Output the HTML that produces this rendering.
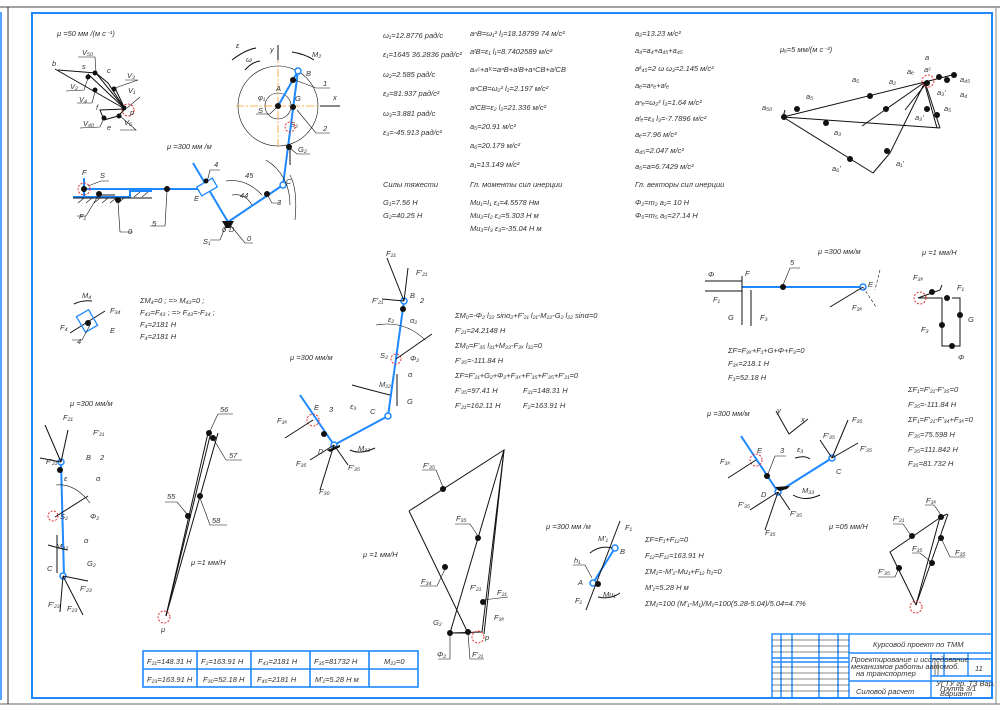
<!DOCTYPE html>
<html><head><meta charset="utf-8"><style>
html,body{margin:0;padding:0;background:#fff}
svg{display:block}
text{font-family:"Liberation Sans",sans-serif;font-style:italic;font-size:7.5px;fill:#333}
.b{stroke:#1e88ff;stroke-width:2;fill:none}
.k{stroke:#111;stroke-width:1;fill:none}
.t{stroke:#111;stroke-width:.6;fill:none}
.r{stroke:#e53030;stroke-width:1;fill:none;stroke-dasharray:2 1.5}
.d{fill:#111}
.o{stroke:#f39a2a;stroke-width:.8;fill:none;stroke-dasharray:8 2 2 2}
.bl{stroke:#1e88ff;stroke-width:2;fill:none}
</style></head><body>
<svg width="1000" height="712" viewBox="0 0 1000 712" xmlns="http://www.w3.org/2000/svg">
<line x1="0" y1="7" x2="1000" y2="7" stroke="#444" stroke-width="1"/>
<line x1="0" y1="704" x2="1000" y2="704" stroke="#666" stroke-width="1"/>
<line x1="8" y1="7" x2="8" y2="704" stroke="#333" stroke-width="1"/>
<line x1="1" y1="12" x2="1" y2="700" stroke="#1e88ff" stroke-width="1.5"/>
<line x1="996" y1="7" x2="996" y2="704" stroke="#888" stroke-width="1"/>
<rect x="32" y="13" width="960" height="685" class="bl"/>

<text x="57" y="36">μ =50 мм /(м с⁻¹)</text>
<g class="k">
<line x1="125" y1="109" x2="55" y2="69"/>
<line x1="125" y1="109" x2="88" y2="74"/>
<line x1="125" y1="109" x2="96" y2="73"/>
<line x1="125" y1="109" x2="115" y2="88"/>
<polyline points="58,70 96,73 108,83 125,109"/>
<polyline points="125,109 118,116 104,120 100,110 125,109"/>
</g>
<circle cx="128" cy="110" r="6" class="r"/>
<g class="d"><circle cx="88" cy="77" r="2.5"/><circle cx="95" cy="73" r="2.5"/><circle cx="114" cy="89" r="2.5"/><circle cx="95" cy="90" r="2.5"/><circle cx="124" cy="108" r="2.5"/><circle cx="119" cy="116" r="2.5"/><circle cx="104" cy="118" r="2.5"/></g>
<text x="52" y="66">b</text><text x="82" y="69">s</text><text x="107" y="73">c</text><text x="107" y="130">e</text><text x="96" y="110">f</text><text x="130" y="115">p</text>
<text x="82" y="55">V₅₀</text><text x="127" y="78">V₃</text><text x="70" y="89">V₂</text><text x="79" y="102">V₄</text><text x="128" y="93">V₁</text><text x="83" y="126">V₄₀</text><text x="124" y="125">V₅</text>
<g class="t"><polyline points="78,57 95,57 96,72"/><polyline points="125,80 138,80 115,88"/><polyline points="66,91 84,90 88,78"/><polyline points="77,103 92,103 95,92"/><polyline points="140,97 127,108"/><polyline points="80,128 100,127 103,120"/><polyline points="120,130 136,130 120,116"/></g>

<circle cx="278" cy="106" r="40" class="t"/>
<circle cx="278" cy="106" r="13" class="t"/>
<line x1="236" y1="106" x2="340" y2="106" class="o"/>
<line x1="278" y1="55" x2="278" y2="148" class="o"/>
<line x1="278" y1="60" x2="278" y2="45" class="k"/>
<text x="270" y="52">y</text><line x1="320" y1="106" x2="340" y2="106" class="k"/><text x="333" y="100">x</text>
<text x="276" y="91">A</text><text x="258" y="100">φ₁</text><text x="306" y="76">B</text>
<text x="295" y="101">G</text><text x="290" y="127">S₂</text><text x="312" y="57">M₂</text>
<path d="M232 60 Q245 50 256 48" class="k"/><path d="M245 70 Q252 62 260 61" class="k"/>
<text x="236" y="48">ε</text><text x="246" y="62">ω</text>
<path d="M292 52 Q305 54 314 60" class="k"/>
<line x1="278" y1="106" x2="298" y2="71" class="b"/>
<line x1="298" y1="71" x2="283" y2="185" class="b"/>
<circle cx="298" cy="71" r="3" fill="#fff" stroke="#1e88ff" stroke-width="1.5"/>
<circle cx="293" cy="80" r="3" class="d"/><circle cx="278" cy="106" r="3" class="d"/><circle cx="293" cy="107" r="3" class="d"/><circle cx="289" cy="147" r="3" class="d"/>
<circle cx="290" cy="127" r="5" class="r"/>
<line x1="290" y1="148" x2="290" y2="165" class="k"/>
<g class="t"><polyline points="295,80 316,88 330,88"/><polyline points="297,110 316,133 330,133"/><polyline points="291,149 297,154 310,154"/><polyline points="276,108 270,114 256,114"/></g>
<text x="323" y="86">1</text><text x="323" y="131">2</text><text x="298" y="152">G₂</text><text x="258" y="113">S</text>
<text x="167" y="149">μ =300 мм /м</text>
<line x1="84" y1="189" x2="205" y2="189" class="b"/>
<line x1="84" y1="178" x2="84" y2="197" class="b"/>
<polyline points="73,197 130,197 130,191 152,191" class="b"/>
<line x1="73" y1="198" x2="152" y2="198" class="k"/>
<g class="t"><line x1="78" y1="203" x2="84" y2="198"/><line x1="86" y1="203" x2="92" y2="198"/><line x1="94" y1="203" x2="100" y2="198"/><line x1="102" y1="203" x2="108" y2="198"/><line x1="110" y1="203" x2="116" y2="198"/><line x1="118" y1="203" x2="124" y2="198"/><line x1="134" y1="197" x2="140" y2="192"/><line x1="142" y1="197" x2="148" y2="192"/></g>
<circle cx="84" cy="189" r="6" class="r"/>
<circle cx="84" cy="189" r="3" class="d"/><circle cx="99" cy="194" r="3" class="d"/><circle cx="118" cy="200" r="3" class="d"/><circle cx="167" cy="189" r="3" class="d"/>
<line x1="100" y1="195" x2="115" y2="195" class="k"/>
<text x="82" y="175">F</text><text x="100" y="178">S</text><text x="79" y="219">F₁</text><text x="128" y="234">0</text><text x="152" y="226">5</text><text x="194" y="201">E</text><text x="214" y="167">4</text>
<g class="t"><polyline points="88,186 101,181 109,181"/><polyline points="98,196 86,216 77,216"/><polyline points="118,202 120,232 133,232"/><polyline points="167,191 165,226 150,226"/><polyline points="207,182 210,170 220,170"/></g>
<line x1="193" y1="163" x2="228" y2="222" class="b"/>
<g transform="rotate(-30 207 187)"><rect x="198" y="182" width="18" height="10" fill="#fff" stroke="#1e88ff" stroke-width="1.3"/></g>
<circle cx="206" cy="181" r="2.5" class="d"/>
<line x1="228" y1="222" x2="283" y2="185" class="b"/>
<circle cx="283" cy="185" r="3" fill="#fff" stroke="#1e88ff" stroke-width="1.5"/>
<circle cx="267" cy="194" r="3" class="d"/>
<path d="M222 221 L234 221 L230 228 L226 228Z" class="d"/>
<text x="229" y="232">D</text><text x="286" y="184">C</text><text x="277" y="205">3</text>
<text x="222" y="232">0</text><text x="245" y="178">45</text><text x="240" y="198">44</text>
<path d="M226 181 Q246 178 262 195" class="t"/><path d="M232 195 Q245 193 252 205" class="t"/>
<path d="M266 160 Q290 175 290 205" class="t"/><path d="M290 175 Q298 190 295 220" class="t"/>
<g class="t"><polyline points="268,196 272,203 280,203"/><polyline points="226,225 220,240 210,240"/><polyline points="231,226 245,243 253,243"/></g>
<text x="203" y="244">S₁</text><text x="247" y="241">0</text>

<text x="383" y="38">ω₁=12.8776 рад/с</text>
<text x="383" y="57">ε₁=1645 36.2836 рад/с²</text>
<text x="383" y="77">ω₂=2.585 рад/с</text>
<text x="383" y="96">ε₂=81.937 рад/с²</text>
<text x="383" y="116">ω₃=3.881 рад/с</text>
<text x="383" y="135">ε₃=-45.913 рад/с²</text>

<text x="470" y="36">aⁿB=ω₁² l₁=18.18799 74 м/с²</text>
<text x="470" y="54">aᵗB=ε₁ l₁=8.7402589 м/с²</text>
<text x="470" y="72">aₙᶜ+aᵗᶜ=aⁿB+aᵗB+aⁿCB+aᵗCB</text>
<text x="470" y="91">aⁿCB=ω₂² l₂=2.197 м/с²</text>
<text x="470" y="110">aᵗCB=ε₂ l₂=21.336 м/с²</text>
<text x="470" y="129">a₅=20.91 м/с²</text>
<text x="470" y="148">a₆=20.179 м/с²</text>
<text x="470" y="167">a₁=13.149 м/с²</text>

<text x="635" y="36">a₂=13.23 м/с²</text>
<text x="635" y="53">a₄=a₄+a₄₅+a₄₅</text>
<text x="635" y="71">aᵏ₄₅=2 ω ω₃=2.145 м/с²</text>
<text x="635" y="88">aₑ=aⁿₑ+aᵗₑ</text>
<text x="635" y="105">aⁿₑ=ω₃² l₃=1.64 м/с²</text>
<text x="635" y="121">aᵗₑ=ε₃ l₃=-7.7896 м/с²</text>
<text x="635" y="137">aₑ=7.96 м/с²</text>
<text x="635" y="153">a₄₅=2.047 м/с²</text>
<text x="635" y="169">a₅=a=6.7429 м/с²</text>

<text x="383" y="187">Силы тяжести</text>
<text x="383" y="205">G₁=7.56 Н</text>
<text x="383" y="218">G₂=40.25 Н</text>
<text x="470" y="187">Гл. моменты сил инерции</text>
<text x="470" y="205">Mи₁=I₁ ε₁=4.5578 Нм</text>
<text x="470" y="218">Mи₂=I₂ ε₂=5.303 Н м</text>
<text x="470" y="231">Mи₃=I₃ ε₃=-35.04 Н м</text>
<text x="635" y="187">Гл. векторы сил инерции</text>
<text x="635" y="205">Φ₂=m₂ a₂= 10 Н</text>
<text x="635" y="218">Φ₅=m₅ a₅=27.14 Н</text>

<text x="780" y="52">μₐ=5 мм/(м с⁻²)</text>
<g class="k">
<line x1="783" y1="117" x2="925" y2="82"/>
<line x1="783" y1="117" x2="940" y2="128"/>
<line x1="783" y1="117" x2="873" y2="173"/>
<polyline points="873,173 890,153 925,82"/>
<line x1="862" y1="126" x2="925" y2="82"/>
<line x1="925" y1="82" x2="940" y2="128"/>
<line x1="925" y1="82" x2="952" y2="75"/>
<line x1="783" y1="117" x2="785" y2="110"/>
<polyline points="905,110 925,85 937,128"/>
</g>
<circle cx="928" cy="81" r="6" class="r"/>
<g class="d"><circle cx="797" cy="109" r="3"/><circle cx="826" cy="123" r="3"/><circle cx="870" cy="96" r="3"/><circle cx="886" cy="109" r="3"/><circle cx="850" cy="159" r="3"/><circle cx="887" cy="151" r="3"/><circle cx="927" cy="83" r="3"/><circle cx="939" cy="77" r="3"/><circle cx="947" cy="80" r="3"/><circle cx="954" cy="75" r="3"/><circle cx="927" cy="109" r="3"/><circle cx="937" cy="115" r="3"/><circle cx="784" cy="117" r="3"/></g>
<g><text x="762" y="110" font-size="7">a₅₀</text><text x="806" y="99" font-size="7">a₅</text><text x="852" y="82" font-size="7">a₅</text><text x="889" y="84" font-size="7">a₂</text><text x="907" y="74" font-size="7">aₑ</text><text x="924" y="72" font-size="7">aᶜ</text><text x="925" y="60" font-size="7">a</text><text x="960" y="82" font-size="7">a₄₅</text><text x="960" y="97" font-size="7">a₄</text><text x="937" y="95" font-size="7">a₃'</text><text x="915" y="120" font-size="7">a₃'</text><text x="944" y="111" font-size="7">a₅</text><text x="834" y="135" font-size="7">a₃</text><text x="832" y="171" font-size="7">a₆'</text><text x="896" y="166" font-size="7">a₁'</text></g>

<text x="818" y="254">μ =300 мм/м</text>
<line x1="742" y1="287" x2="863" y2="287" class="b"/>
<circle cx="863" cy="287" r="3" fill="#fff" stroke="#1e88ff" stroke-width="1.5"/>
<circle cx="783" cy="287" r="3" class="d"/>
<line x1="742" y1="276" x2="742" y2="325" class="k"/>
<line x1="705" y1="281" x2="742" y2="281" class="k"/><line x1="705" y1="291" x2="742" y2="291" class="k"/>
<line x1="751" y1="290" x2="751" y2="326" class="k"/>
<line x1="880" y1="270" x2="875" y2="290" class="t" stroke-dasharray="3 2"/><line x1="863" y1="287" x2="876" y2="307" class="t" stroke-dasharray="3 2"/>
<line x1="863" y1="287" x2="830" y2="307" class="k"/>
<polyline points="783,285 790,268 800,268" class="t"/>
<text x="708" y="277">Φ</text><text x="745" y="276">F</text><text x="790" y="265">5</text><text x="868" y="287">E</text>
<text x="713" y="302">F₁</text><text x="728" y="320">G</text><text x="760" y="320">F₃</text><text x="852" y="310">F₃ₓ</text>
<text x="728" y="353">ΣF=F₃ₓ+F₁+G+Φ+F₃=0</text>
<text x="728" y="366">F₃ₓ=218.1 Н</text>
<text x="728" y="380">F₃=52.18 Н</text>
<text x="922" y="255">μ =1 мм/Н</text>
<g class="k"><polyline points="918,298 942,298 942,346 960,346 960,298 952,298"/><polyline points="918,298 940,290 942,285"/></g>
<circle cx="920" cy="298" r="6" class="r"/>
<g class="d"><circle cx="932" cy="292" r="3"/><circle cx="947" cy="298" r="3"/><circle cx="960" cy="315" r="3"/><circle cx="942" cy="325" r="3"/><circle cx="952" cy="346" r="3"/></g>
<text x="913" y="280">F₃ₓ</text><text x="957" y="290">F₁</text><text x="968" y="322">G</text><text x="921" y="332">F₃</text><text x="958" y="360">Φ</text>

<text x="82" y="298">M₄</text>
<path d="M74 304 Q82 300 92 301" class="k"/>
<line x1="70" y1="333" x2="105" y2="311" class="k"/>
<g transform="rotate(-30 87 321)"><rect x="80" y="312" width="14" height="18" fill="none" stroke="#1e88ff" stroke-width="1.3"/></g>
<circle cx="88" cy="323" r="3" class="d"/>
<polyline points="90,325 82,340 72,340" class="t"/>
<text x="60" y="330">F₄</text><text x="110" y="313">F₃₄</text><text x="110" y="333">E</text><text x="77" y="344">4</text>
<text x="140" y="303">ΣM₄=0 ; => M₄₃=0 ;</text>
<text x="140" y="315">F₄₃=F₄₃ ; => F₄₃=-F₃₄ ;</text>
<text x="140" y="327">F₄=2181 Н</text>
<text x="140" y="339">F₄=2181 Н</text>

<line x1="404" y1="301" x2="388" y2="416" class="b"/>
<line x1="388" y1="416" x2="334" y2="445" class="b"/>
<line x1="334" y1="445" x2="300" y2="395" class="b"/>
<circle cx="404" cy="301" r="3" fill="#fff" stroke="#1e88ff" stroke-width="1.5"/>
<circle cx="388" cy="416" r="3" fill="#fff" stroke="#1e88ff" stroke-width="1.5"/>
<circle cx="334" cy="445" r="3" fill="#fff" stroke="#1e88ff" stroke-width="1.5"/>
<circle cx="403" cy="309" r="3" class="d"/><circle cx="324" cy="434" r="3" class="d"/>
<circle cx="396" cy="359" r="5" class="r"/><circle cx="313" cy="420" r="6" class="r"/>
<g class="k"><line x1="404" y1="301" x2="387" y2="258"/><line x1="404" y1="301" x2="408" y2="268"/><line x1="404" y1="301" x2="382" y2="299"/><line x1="396" y1="359" x2="432" y2="334"/><line x1="397" y1="374" x2="397" y2="406"/><line x1="313" y1="420" x2="285" y2="438"/><line x1="334" y1="445" x2="320" y2="490"/><line x1="334" y1="445" x2="310" y2="460"/><line x1="334" y1="445" x2="348" y2="465"/></g>
<path d="M376 325 Q405 320 425 340" class="t"/><path d="M352 385 Q370 390 390 395" class="k"/><path d="M350 450 Q360 455 375 448" class="k"/>
<path d="M327 450 L340 445 L340 447 L330 452Z" class="d"/>
<text x="386" y="256">F₂₁</text><text x="416" y="275">F'₂₁</text><text x="372" y="303">F'₂₁</text><text x="410" y="298">B</text><text x="420" y="303">2</text>
<text x="388" y="322">ε₂</text><text x="410" y="323">α₂</text><text x="380" y="358">S₂</text><text x="410" y="361">Φ₂</text><text x="408" y="377">α</text>
<text x="379" y="387">M₂₂</text><text x="407" y="404">G</text><text x="370" y="414">C</text><text x="350" y="409">ε₃</text>
<text x="314" y="410">E</text><text x="329" y="412">3</text><text x="277" y="423">F₃ₓ</text><text x="318" y="454">D</text>
<text x="296" y="466">F₃₅</text><text x="319" y="494">F₃₀</text><text x="348" y="470">F'₃₅</text><text x="358" y="451">M₃₃</text>
<text x="290" y="360">μ =300 мм/м</text>
<text x="455" y="318">ΣM₀=-Φ₂ l₂₂ sinα₂+F'₂₁ l₂₁-M₂₂-G₂ l₂₂ sinα=0</text>
<text x="455" y="333">F'₂₁=24.2148 Н</text>
<text x="455" y="348">ΣM₀=F'₃₅ l₃₁+M₃₃-F₃ₓ l₃₂=0</text>
<text x="455" y="363">F'₃₅=-111.84 Н</text>
<text x="455" y="378">ΣF=F'₂₁+G₂+Φ₂+F₃ₓ+F'₃₅+F'₃₅+F'₂₁=0</text>
<text x="455" y="393">F'₃₅=97.41 Н</text><text x="523" y="393">F₂₁=148.31 Н</text>
<text x="455" y="408">F'₂₁=162.11 Н</text><text x="523" y="408">F₂=163.91 Н</text>

<text x="70" y="406">μ =300 мм/м</text>
<line x1="61" y1="462" x2="64" y2="576" class="b"/>
<circle cx="61" cy="462" r="3" fill="#fff" stroke="#1e88ff" stroke-width="1.5"/><circle cx="63" cy="576" r="3" fill="#fff" stroke="#1e88ff" stroke-width="1.5"/>
<circle cx="60" cy="470" r="3" class="d"/><circle cx="53" cy="516" r="5" class="r"/>
<g class="k"><line x1="61" y1="462" x2="45" y2="425"/><line x1="61" y1="462" x2="68" y2="430"/><line x1="61" y1="462" x2="40" y2="458"/><line x1="55" y1="517" x2="88" y2="496"/><line x1="57" y1="535" x2="57" y2="573"/><line x1="63" y1="576" x2="60" y2="612"/><line x1="63" y1="576" x2="83" y2="615"/><line x1="63" y1="576" x2="88" y2="581"/></g>
<path d="M56 485 Q75 483 90 503" class="t"/><path d="M48 545 Q58 548 68 550" class="k"/>
<text x="63" y="420">F₂₁</text><text x="93" y="435">F'₂₁</text><text x="46" y="464">F'₂₁</text><text x="86" y="460">B</text><text x="100" y="460">2</text>
<text x="64" y="481">ε</text><text x="96" y="481">α</text><text x="60" y="519">S₂</text><text x="90" y="519">Φ₂</text><text x="84" y="543">α</text><text x="56" y="549">M₂₂</text><text x="87" y="566">G₂</text>
<text x="47" y="571">C</text><text x="48" y="607">F'₂₃</text><text x="67" y="611">F₂₃</text><text x="80" y="591">F'₂₃</text>
<g class="k"><line x1="166" y1="616" x2="208" y2="433"/><line x1="166" y1="616" x2="218" y2="433"/><line x1="166" y1="616" x2="210" y2="436"/></g>
<circle cx="164" cy="617" r="6" class="r"/><text x="161" y="632">μ</text>
<g class="d"><circle cx="209" cy="433" r="3"/><circle cx="213" cy="438" r="3"/><circle cx="200" cy="496" r="3"/><circle cx="188" cy="516" r="3"/></g>
<g class="t"><polyline points="210,431 218,414 233,414"/><polyline points="214,440 226,460 242,460"/><polyline points="187,514 177,502 165,502"/><polyline points="200,498 210,525 227,525"/></g>
<text x="220" y="412">56</text><text x="229" y="458">57</text><text x="167" y="499">55</text><text x="212" y="523">58</text>
<text x="191" y="565">μ =1 мм/Н</text>

<g class="k"><polyline points="409,511 504,450 450,633 468,633 409,511"/><line x1="504" y1="450" x2="482" y2="632"/><line x1="504" y1="450" x2="484" y2="634"/><line x1="450" y1="633" x2="482" y2="632"/></g>
<circle cx="478" cy="637" r="6" class="r"/>
<g class="d"><circle cx="443" cy="489" r="3"/><circle cx="478" cy="538" r="3"/><circle cx="445" cy="567" r="3"/><circle cx="483" cy="602" r="3"/><circle cx="450" cy="633" r="3"/><circle cx="468" cy="632" r="3"/></g>
<g class="t"><polyline points="443,487 436,470 422,470"/><polyline points="478,536 470,524 455,524"/><polyline points="445,569 437,586 420,586"/><polyline points="483,600 508,597"/><polyline points="450,635 450,659 438,659"/><polyline points="468,634 470,659 484,659"/></g>
<text x="423" y="468">F'₃₅</text><text x="456" y="521">F₃₅</text><text x="421" y="584">F₃₄</text><text x="470" y="590">F'₂₁</text><text x="497" y="595">F₂₁</text><text x="494" y="620">F₃ₓ</text><text x="433" y="625">G₂</text><text x="437" y="657">Φ₂</text><text x="472" y="657">F'₂₁</text><text x="485" y="640">p</text>
<text x="363" y="557">μ =1 мм/Н</text>

<text x="546" y="529">μ =300 мм /м</text>
<line x1="593" y1="583" x2="615" y2="548" class="b"/>
<circle cx="593" cy="583" r="3" fill="#fff" stroke="#1e88ff" stroke-width="1.5"/><circle cx="615" cy="548" r="3" fill="#fff" stroke="#1e88ff" stroke-width="1.5"/>
<circle cx="598" cy="584" r="3" class="d"/>
<g class="k"><line x1="620" y1="521" x2="586" y2="610"/><path d="M590 553 Q600 545 612 548"/><path d="M598 597 Q610 600 620 593"/></g>
<polyline points="592,578 585,565 573,565" class="t"/>
<text x="598" y="541">M'₁</text><text x="625" y="530">F₁</text><text x="620" y="554">B</text><text x="574" y="563">h₁</text><text x="578" y="585">A</text><text x="575" y="603">F₁</text><text x="603" y="597">Mи₁</text>
<text x="645" y="542">ΣF=F₁+F₁₂=0</text>
<text x="645" y="558">F₁₂=F₁₂=163.91 Н</text>
<text x="645" y="574">ΣM₁=-M'₁-Mи₁+F₁₂ h₁=0</text>
<text x="645" y="590">M'₁=5.28 Н м</text>
<text x="645" y="606">ΣM₁=100 (M'₁-M₁)/M₁=100(5.28-5.04)/5.04=4.7%</text>

<text x="707" y="416">μ =300 мм/м</text>
<polyline points="776,411 789,434 808,419" class="k"/><text x="777" y="413">y</text><text x="801" y="422">x</text>
<line x1="741" y1="436" x2="778" y2="492" class="b"/>
<line x1="778" y1="492" x2="832" y2="458" class="b"/>
<circle cx="778" cy="492" r="3" fill="#fff" stroke="#1e88ff" stroke-width="1.5"/><circle cx="832" cy="458" r="3" fill="#fff" stroke="#1e88ff" stroke-width="1.5"/>
<circle cx="756" cy="460" r="6" class="r"/><circle cx="767" cy="476" r="3" class="d"/>
<path d="M775 487 L790 486 L787 489 L779 491Z" class="d"/>
<g class="k"><line x1="756" y1="460" x2="728" y2="478"/><line x1="832" y1="458" x2="848" y2="420"/><line x1="832" y1="458" x2="820" y2="440"/><line x1="832" y1="458" x2="858" y2="443"/><line x1="778" y1="492" x2="750" y2="510"/><line x1="778" y1="492" x2="765" y2="530"/><line x1="778" y1="492" x2="790" y2="510"/><path d="M795 458 Q805 455 810 459"/><path d="M793 495 Q805 502 820 495"/></g>
<polyline points="768,474 775,456 786,456" class="t"/>
<text x="757" y="453">E</text><text x="780" y="453">3</text><text x="720" y="464">F₃ₓ</text><text x="797" y="452">ε₃</text><text x="836" y="474">C</text>
<text x="823" y="438">F'₃₅</text><text x="852" y="422">F₃₅</text><text x="860" y="451">F'₃₅</text><text x="761" y="497">D</text><text x="802" y="493">M₃₃</text>
<text x="738" y="507">F'₃₅</text><text x="790" y="516">F'₃₅</text><text x="765" y="535">F₃₅</text>
<text x="908" y="392">ΣF₁=F'₂₁-F'₃₅=0</text>
<text x="908" y="407">F'₃₅=-111.84 Н</text>
<text x="908" y="422">ΣF₁=F'₂₁-F'₃₄+F₃ₓ=0</text>
<text x="908" y="437">F'₃₅=75.598 Н</text>
<text x="908" y="452">F'₃₅=111.842 Н</text>
<text x="908" y="466">F₃₅=81.732 Н</text>
<text x="829" y="529">μ =05 мм/Н</text>
<g class="k"><polyline points="916,605 890,552 941,517 947,514"/><line x1="916" y1="605" x2="940" y2="517"/><line x1="916" y1="605" x2="948" y2="514"/></g>
<circle cx="916" cy="607" r="6" class="r"/>
<g class="d"><circle cx="941" cy="517" r="3"/><circle cx="912" cy="536" r="3"/><circle cx="899" cy="568" r="3"/><circle cx="932" cy="563" r="3"/><circle cx="941" cy="538" r="3"/></g>
<g class="t"><polyline points="941,515 934,505 925,505"/><polyline points="910,534 903,524 893,524"/><polyline points="898,570 895,577 878,577"/><polyline points="930,561 920,553 912,553"/><polyline points="942,540 950,557 965,557"/></g>
<text x="926" y="503">F₃ₓ</text><text x="893" y="521">F'₂₁</text><text x="878" y="574">F'₃₅</text><text x="912" y="551">F₃₅</text><text x="955" y="555">F₃₅</text>

<g stroke="#1e88ff" stroke-width="1.6" fill="none">
<rect x="143" y="651" width="275" height="36"/>
<line x1="143" y1="669" x2="418" y2="669"/>
<line x1="197" y1="651" x2="197" y2="687"/><line x1="251" y1="651" x2="251" y2="687"/><line x1="310" y1="651" x2="310" y2="687"/><line x1="369" y1="651" x2="369" y2="687"/>
</g>
<text x="147" y="664">F₂₁=148.31 Н</text><text x="201" y="664">F₂=163.91 Н</text><text x="258" y="664">F₄₃=2181 Н</text><text x="314" y="664">F₃₅=81732 Н</text><text x="384" y="664">M₂₂=0</text>
<text x="147" y="682">F₂₃=163.91 Н</text><text x="203" y="682">F₃₀=52.18 Н</text><text x="257" y="682">F₄₅=2181 Н</text><text x="315" y="682">M'₁=5.28 Н м</text>

<g stroke="#1e88ff" stroke-width="1.4" fill="none">
<rect x="772" y="634" width="220" height="64"/>
<line x1="849" y1="634" x2="849" y2="698"/>
<line x1="849" y1="653" x2="992" y2="653"/>
<line x1="849" y1="681" x2="992" y2="681"/>
<line x1="931" y1="653" x2="931" y2="698"/>
<line x1="781" y1="634" x2="781" y2="698"/><line x1="792" y1="634" x2="792" y2="698"/><line x1="819" y1="634" x2="819" y2="698"/><line x1="838" y1="634" x2="838" y2="698"/>
<line x1="772" y1="658" x2="849" y2="658"/><line x1="772" y1="662" x2="849" y2="662"/>
<line x1="931" y1="659" x2="992" y2="659"/><line x1="931" y1="676" x2="992" y2="676"/><line x1="944" y1="653" x2="944" y2="676"/><line x1="968" y1="653" x2="968" y2="676"/>
</g>
<g stroke="#111" stroke-width=".6"><line x1="772" y1="640" x2="849" y2="640"/><line x1="772" y1="646" x2="849" y2="646"/><line x1="772" y1="652" x2="849" y2="652"/><line x1="772" y1="667" x2="849" y2="667"/><line x1="772" y1="673" x2="849" y2="673"/><line x1="772" y1="679" x2="849" y2="679"/><line x1="772" y1="685" x2="849" y2="685"/><line x1="772" y1="691" x2="849" y2="691"/><line x1="935" y1="662" x2="935" y2="675"/><line x1="938" y1="662" x2="938" y2="675"/></g>
<text x="873" y="647" font-size="8.5">Курсовой проект по ТММ</text>
<text x="851" y="662" font-size="5">Проектирование и исследование</text>
<text x="851" y="669" font-size="5">механизмов работы автомоб.</text>
<text x="856" y="676" font-size="5">на транспортер</text>
<text x="856" y="694" font-size="8.5">Силовой расчет</text>
<text x="975" y="671" font-size="6">11</text>
<text x="936" y="686" font-size="4">УГТУ гр. ТЗ Вар.</text>
<text x="940" y="691" font-size="4">Группа 3/1</text>
<text x="940" y="696" font-size="4">Вариант</text>
</svg>
</body></html>
